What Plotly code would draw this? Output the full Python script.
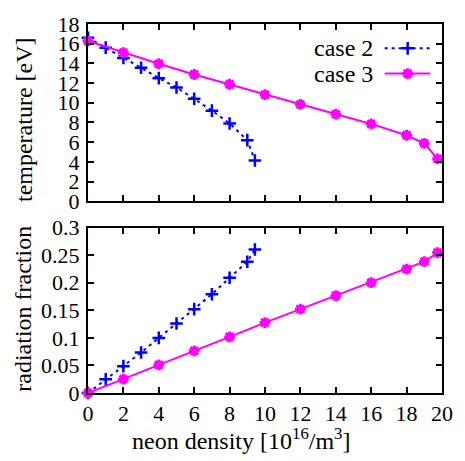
import plotly.graph_objects as go

# neon density [10^16/m^3]
density_case2 = [0, 1, 2, 3, 4, 5, 6, 7, 8, 9, 9.43]
density_case3 = [0, 2, 4, 6, 8, 10, 12, 14, 16, 18, 19, 19.75]

# electron temperature [eV]
temp_case2 = [16.6, 15.6, 14.55, 13.55, 12.5, 11.55, 10.4, 9.2, 7.9, 6.2, 4.13]
temp_case3 = [16.27, 15.1, 13.96, 12.87, 11.88, 10.82, 9.83, 8.84, 7.85, 6.7, 5.87, 4.29]

# radiation fraction
rad_case2 = [0, 0.0247, 0.0487, 0.0734, 0.0999, 0.126, 0.152, 0.179, 0.209, 0.238, 0.260]
rad_case3 = [0, 0.025, 0.051, 0.0764, 0.1017, 0.1276, 0.152, 0.1765, 0.2, 0.2247, 0.238, 0.2546]

x_ticks = list(range(0, 21, 2))
temp_ticks = list(range(0, 19, 2))
rad_ticks = [0, 0.05, 0.1, 0.15, 0.2, 0.25, 0.3]
rad_ticktext = ["0", "0.05", "0.1", "0.15", "0.2", "0.25", "0.3"]

BLUE = "#0000ff"
MAGENTA = "#ff00ff"
FONT = "Liberation Serif, Times New Roman, DejaVu Serif, serif"

case2_line = dict(color=BLUE, width=2, dash="3px,4px")
case2_marker = dict(symbol="cross-thin", size=9, line=dict(color=BLUE, width=2.5))
case3_line = dict(color=MAGENTA, width=2)
case3_marker = dict(symbol="asterisk", size=9, line=dict(color=MAGENTA, width=3))

fig = go.Figure()

# upper panel: temperature
fig.add_trace(go.Scatter(x=density_case2, y=temp_case2, mode="lines+markers",
                         line=case2_line, marker=case2_marker, cliponaxis=False,
                         xaxis="x", yaxis="y"))
fig.add_trace(go.Scatter(x=density_case3, y=temp_case3, mode="lines+markers",
                         line=case3_line, marker=case3_marker, cliponaxis=False,
                         xaxis="x", yaxis="y"))

# lower panel: radiation fraction
fig.add_trace(go.Scatter(x=density_case2, y=rad_case2, mode="lines+markers",
                         line=case2_line, marker=case2_marker, cliponaxis=False,
                         xaxis="x2", yaxis="y2"))
fig.add_trace(go.Scatter(x=density_case3, y=rad_case3, mode="lines+markers",
                         line=case3_line, marker=case3_marker, cliponaxis=False,
                         xaxis="x2", yaxis="y2"))

# key samples (line + symbol) drawn on a hidden unit overlay of the upper panel
key_rows = [(0.8626, case2_line, case2_marker), (0.720, case3_line, case3_marker)]
for ky, ln, mk in key_rows:
    fig.add_trace(go.Scatter(x=[0.838, 0.967], y=[ky, ky], mode="lines", line=ln,
                             xaxis="x3", yaxis="y3", cliponaxis=False))
    fig.add_trace(go.Scatter(x=[0.903], y=[ky], mode="markers", marker=mk,
                             xaxis="x3", yaxis="y3", cliponaxis=False))

top_dom = [0.5198, 1.0]
bot_dom = [0.0, 0.4485]

axis_common = dict(showline=True, linecolor="black", linewidth=2, mirror="allticks",
                   ticks="inside", ticklen=6, tickwidth=1.5, tickcolor="black",
                   showgrid=False, zeroline=False,
                   tickfont=dict(family=FONT, size=22, color="black"))

fig.update_layout(
    width=465, height=461,
    margin=dict(l=88, r=15, t=14, b=68),
    paper_bgcolor="white", plot_bgcolor="white",
    showlegend=False,
    font=dict(family=FONT, size=22, color="black"),
    xaxis=dict(domain=[0, 1], range=[0, 20], anchor="y", tickvals=x_ticks,
               showticklabels=False, **axis_common),
    yaxis=dict(domain=top_dom, range=[0, 18], anchor="x", tickvals=temp_ticks,
               ticklabelstandoff=2, **axis_common),
    xaxis2=dict(domain=[0, 1], range=[0, 20], anchor="y2", tickvals=x_ticks,
                **axis_common),
    yaxis2=dict(domain=bot_dom, range=[0, 0.3], anchor="x2", tickvals=rad_ticks,
                ticktext=rad_ticktext, ticklabelstandoff=2, **axis_common),
    xaxis3=dict(domain=[0, 1], range=[0, 1], anchor="y3", overlaying="x", visible=False),
    yaxis3=dict(domain=top_dom, range=[0, 1], anchor="x3", overlaying="y", visible=False),
)

title_font = dict(family=FONT, size=24, color="black")
fig.add_annotation(text="temperature [eV]", xref="paper", yref="paper",
                   x=-0.1823, y=0.741, textangle=-90, showarrow=False,
                   xanchor="center", yanchor="middle", font=title_font)
fig.add_annotation(text="radiation fraction", xref="paper", yref="paper",
                   x=-0.1823, y=0.2296, textangle=-90, showarrow=False,
                   xanchor="center", yanchor="middle", font=title_font)
fig.add_annotation(text="neon density [10<sup>16</sup>/m<sup>3</sup>]",
                   xref="paper", yref="paper", x=0.435, y=-0.124, showarrow=False,
                   xanchor="center", yanchor="middle", font=title_font)

# key labels
for label, ky in [("case 2", 0.8626), ("case 3", 0.720)]:
    fig.add_annotation(text=label, xref="x domain", yref="y domain", x=0.811, y=ky,
                       xanchor="right", yanchor="middle", showarrow=False,
                       font=title_font)

fig.write_html("out.html")
